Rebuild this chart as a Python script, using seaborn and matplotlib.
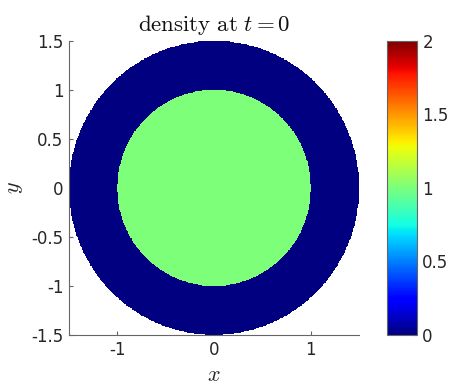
import numpy as np
import pandas as pd
import matplotlib
matplotlib.use("Agg")
import matplotlib.pyplot as plt
import seaborn as sns

# Data: piecewise-constant density on nested disks
radii = [1.0, 1.5]          # outer radius of each region
densities = [1.0, 0.0]      # density in each region
clim = [0.0, 2.0]
xticks = [-1, 0, 1]
xticklabels = ["-1", "0", "1"]
yticks = [-1.5, -1, -0.5, 0, 0.5, 1, 1.5]
yticklabels = ["-1.5", "-1", "-0.5", "0", "0.5", "1", "1.5"]
cbar_ticks = [0, 0.5, 1, 1.5, 2]
cbar_ticklabels = ["0", "0.5", "1", "1.5", "2"]

sns.set_style("white")
plt.rcParams["mathtext.fontset"] = "cm"
plt.rcParams["font.family"] = ["DejaVu Sans"]

lo, hi = -radii[-1], radii[-1]
n = 500
xs = lo + (np.arange(n) + 0.5) * (hi - lo) / n
ys = hi - (np.arange(n) + 0.5) * (hi - lo) / n
X, Y = np.meshgrid(xs, ys)
R = np.sqrt(X**2 + Y**2)
Z = np.full(R.shape, np.nan)
for r, d in sorted(zip(radii, densities), reverse=True):
    Z[R <= r] = d
df = pd.DataFrame(Z, index=ys, columns=xs)

fig = plt.figure(figsize=(4.53, 3.85), dpi=100)
ax = fig.add_axes([0.152, 0.130, 0.641, 0.764])
cax = fig.add_axes([0.854, 0.130, 0.066, 0.764])

sns.heatmap(df, ax=ax, cbar_ax=cax, cmap="jet", vmin=clim[0], vmax=clim[1],
            xticklabels=False, yticklabels=False, rasterized=True)

def xpos(v):
    return (v - lo) / (hi - lo) * n

def ypos(v):
    return (hi - v) / (hi - lo) * n

grey = "#262626"
spc = "#666666"
ax.set_xticks([xpos(v) for v in xticks])
ax.set_xticklabels(xticklabels)
ax.set_yticks([ypos(v) for v in yticks])
ax.set_yticklabels(yticklabels, rotation=0)
ax.tick_params(direction="in", length=3, width=0.8, colors=spc,
               labelcolor=grey, labelsize=12, left=True, bottom=True, pad=4)
for s in ["left", "bottom"]:
    ax.spines[s].set_visible(True)
    ax.spines[s].set_color(spc)
    ax.spines[s].set_linewidth(0.8)
for s in ["top", "right"]:
    ax.spines[s].set_visible(False)

ax.set_xlabel("$x$", fontsize=16, color=grey, labelpad=5)
ax.set_ylabel("$y$", fontsize=16, color=grey, labelpad=4)
ax.set_title(r"$\mathrm{density\ at\ }t=0$", fontsize=16.5, color="#111111", pad=7)

cbar = ax.collections[0].colorbar
cbar.set_ticks(cbar_ticks)
cbar.set_ticklabels(cbar_ticklabels)
cax.tick_params(direction="in", length=3, width=0.8, colors=spc,
                labelcolor=grey, labelsize=12, right=True, pad=4)
cbar.outline.set_visible(True)
cbar.outline.set_edgecolor(spc)
cbar.outline.set_linewidth(0.8)

fig.savefig("out.png", dpi=100)
